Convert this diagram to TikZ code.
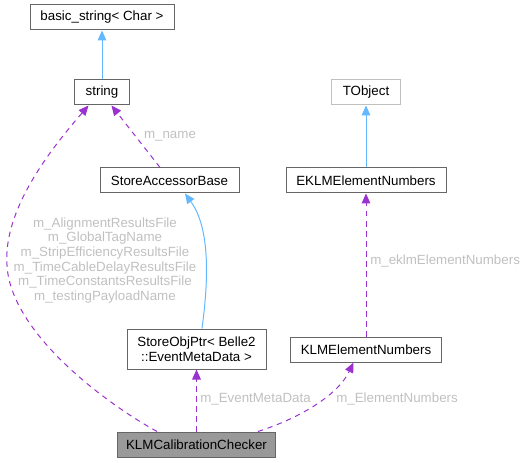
\documentclass[tikz,border=0pt]{standalone}
\usepackage{fontspec}
\setmainfont{Liberation Sans}
\usetikzlibrary{arrows.meta}
\definecolor{edgepurple}{HTML}{9A32CD}
\definecolor{edgeblue}{HTML}{63B8FF}
\definecolor{lblgray}{HTML}{C0C0C0}
\definecolor{boxborder}{HTML}{666666}
\definecolor{chkfill}{HTML}{999999}
\begin{document}
\begin{tikzpicture}[x=0.75pt,y=-0.75pt,
  font=\fontsize{10}{11}\selectfont,
  cls/.style={draw=boxborder,line width=0.75pt,fill=white,minimum height=18.75pt,inner sep=2pt,text=black},
  usage/.style={draw=edgepurple,line width=0.75pt,dash pattern=on 4pt off 3.5pt,
     -{Triangle[length=7.5pt,width=6.5pt,fill=edgepurple]}},
  inherit/.style={draw=edgeblue,line width=0.75pt,
     -{Triangle[length=7.5pt,width=6.5pt,fill=edgeblue]}},
  lbl/.style={text=lblgray,inner sep=0pt}]
\useasboundingbox (0,0) rectangle (524,463);
% nodes
\node[cls,minimum width=108pt] (bs) at (102,17.5) {basic\_string< Char >};
\node[cls,minimum width=41.25pt] (str) at (102,92.5) {string};
\node[cls,minimum width=104.25pt] (sab) at (169.5,180.5) {StoreAccessorBase};
\node[cls,minimum width=104.25pt,minimum height=30pt,align=center] (sop) at (196.5,349) {StoreObjPtr< Belle2\\::EventMetaData >};
\node[cls,minimum width=113.25pt] (ken) at (366,349.5) {KLMElementNumbers};
\node[cls,minimum width=118.5pt,fill=chkfill] (chk) at (196.5,444.5) {KLMCalibrationChecker};
\node[cls,draw=lblgray,minimum width=51.75pt] (tobj) at (366,92.5) {TObject};
\node[cls,minimum width=120pt] (ekl) at (366,180.5) {EKLMElementNumbers};
% inheritance edges
\draw[inherit] (str) -- (bs);
\draw[inherit] (ekl) -- (tobj);
\draw[inherit] ([xshift=4.1pt]sop.north) .. controls (210,270) and (208,225) .. ([xshift=11.6pt]sab.south);
% usage edges
\draw[usage] ([xshift=-7.1pt]sab.north) -- ([xshift=7.1pt]str.south);
\draw[usage] ([xshift=-29.6pt]chk.north) .. controls (100,400) and (10,330) .. (7,265)
   .. controls (3,210) and (50,150) .. ([xshift=-10.1pt]str.south);
\draw[usage] (chk.north) -- (sop.south);
\draw[usage] ([xshift=46.1pt]chk.north) .. controls (300,418) and (338,395) .. ([xshift=-9.4pt]ken.south);
\draw[usage] (ken) -- (ekl);
% labels
\node[lbl] (l1) at (170,136) {m\_name};
\node[lbl,align=center] (l2) at (105,260.5) {m\_AlignmentResultsFile\\m\_GlobalTagName\\m\_StripEfficiencyResultsFile\\m\_TimeCableDelayResultsFile\\m\_TimeConstantsResultsFile\\m\_testingPayloadName};
\node[lbl,anchor=west] (l3) at (200,399) {m\_EventMetaData};
\node[lbl,anchor=west] (l4) at (336,399) {m\_ElementNumbers};
\node[lbl,anchor=west] (l5) at (370,261) {m\_eklmElementNumbers};
\end{tikzpicture}
\end{document}
